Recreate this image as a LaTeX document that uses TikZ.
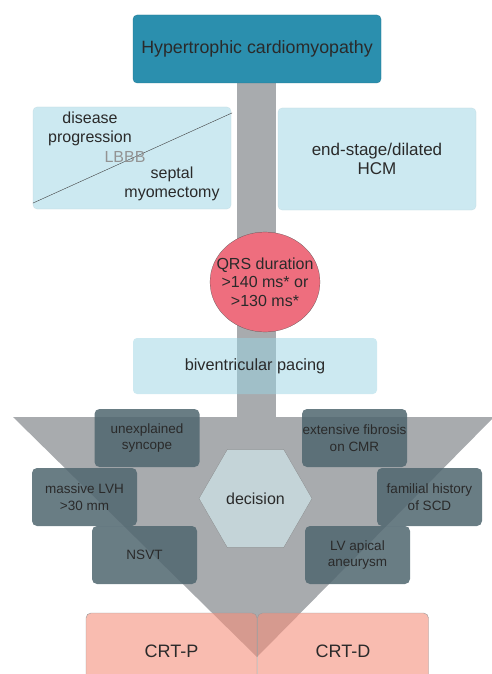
\documentclass[tikz,border=0pt]{standalone}
\usepackage{fontspec}
\setmainfont{Liberation Sans}
\usetikzlibrary{shapes.geometric}

\definecolor{hcmteal}{HTML}{2B8FAE}
\definecolor{paleblue}{HTML}{CCE9F1}
\definecolor{paceblue}{RGB}{153,211,227}
\definecolor{qrsred}{HTML}{EE6E7E}
\definecolor{stemgray}{HTML}{A8ABAE}
\definecolor{slate}{HTML}{4F666F}
\definecolor{hexgray}{HTML}{C4D4D8}
\definecolor{crtsalmon}{RGB}{245,143,123}
\definecolor{txt}{HTML}{2A2A2A}

\begin{document}
\begin{tikzpicture}[x=1pt, y=-1pt,
  every node/.style={text=txt, align=center, inner sep=0pt},
  infobox/.style={rounded corners=4pt, minimum width=198pt, minimum height=102pt,
    fill=paleblue, draw=paleblue!85!gray, very thin, font=\fontsize{17}{18.5}\selectfont},
  riskbox/.style={rounded corners=5pt, minimum width=105pt, minimum height=58pt,
    fill=slate, fill opacity=0.85, text opacity=1, draw=none,
    font=\fontsize{13.5}{16.5}\selectfont},
  devicebox/.style={rounded corners=5pt, minimum width=171pt, minimum height=77pt,
    fill=crtsalmon, fill opacity=0.6, text opacity=1, draw=gray!80, thin,
    font=\fontsize{18}{20}\selectfont}]

\useasboundingbox (0,0) rectangle (492,674);
\clip (0,0) rectangle (492,674);

% stem from the top box down to the funnel
\fill [stemgray] (236.5,83) rectangle (275.5,420);

\node (hcm) [rounded corners=4pt, minimum width=248pt, minimum height=68pt,
  fill=hcmteal, draw=hcmteal!80!black, very thin,
  font=\fontsize{17.8}{20}\selectfont] at (257,49) {Hypertrophic cardiomyopathy};

% indications
\node (progbox) [infobox] at (132,158) {};
\node (dilbox)  [infobox] at (377,159) {end-stage/dilated\\HCM};
\draw [thin, black!75] ([yshift=6pt]progbox.south west) -- ([xshift=1pt,yshift=-6pt]progbox.north east);
\node (progtxt) [font=\fontsize{16}{19}\selectfont] at (90,129) {disease\\progression};
\node (lbbb)    [text=gray!85, font=\fontsize{16}{19}\selectfont] at (125,157) {LBBB};
\node (septtxt) [font=\fontsize{16}{19}\selectfont] at (172,184) {septal\\myomectomy};

\node (qrs) [ellipse, minimum width=110pt, minimum height=100pt, inner xsep=-12pt,
  fill=qrsred, draw=black!70, very thin, font=\fontsize{16}{18.3}\selectfont]
  at (265,282) {QRS duration\\>140 ms* or\\>130 ms*};

\node (bivpace) [minimum width=244pt, minimum height=56pt, rounded corners=4pt,
  fill=paceblue, fill opacity=0.5, text opacity=1,
  font=\fontsize{16.3}{18}\selectfont] at (255,366) {biventricular pacing};

% funnel
\fill [stemgray] (13,417) -- (494,417) -- (257,657) -- cycle;

% risk factors
\node (syncope)  [riskbox] at (147,438)   {unexplained\\syncope};
\node (fibrosis) [riskbox] at (354.5,438) {extensive fibrosis\\on CMR};
\node (lvh)      [riskbox] at (84.5,497)  {massive LVH\\>30 mm};
\node (scd)      [riskbox] at (429.5,497) {familial history\\of SCD};
\node (nsvt)     [riskbox] at (144.5,555) {NSVT};
\node (aneurysm) [riskbox] at (357.5,555) {LV apical\\aneurysm};

\node (decision) [regular polygon, regular polygon sides=6, minimum size=113pt,
  fill=hexgray, draw=gray, very thin, font=\fontsize{16}{18}\selectfont]
  at (255.5,498.5) {decision};

% devices
\node (crtp) [devicebox] at (171.5,651.5) {CRT-P};
\node (crtd) [devicebox] at (343,651.5)   {CRT-D};

\end{tikzpicture}
\end{document}
